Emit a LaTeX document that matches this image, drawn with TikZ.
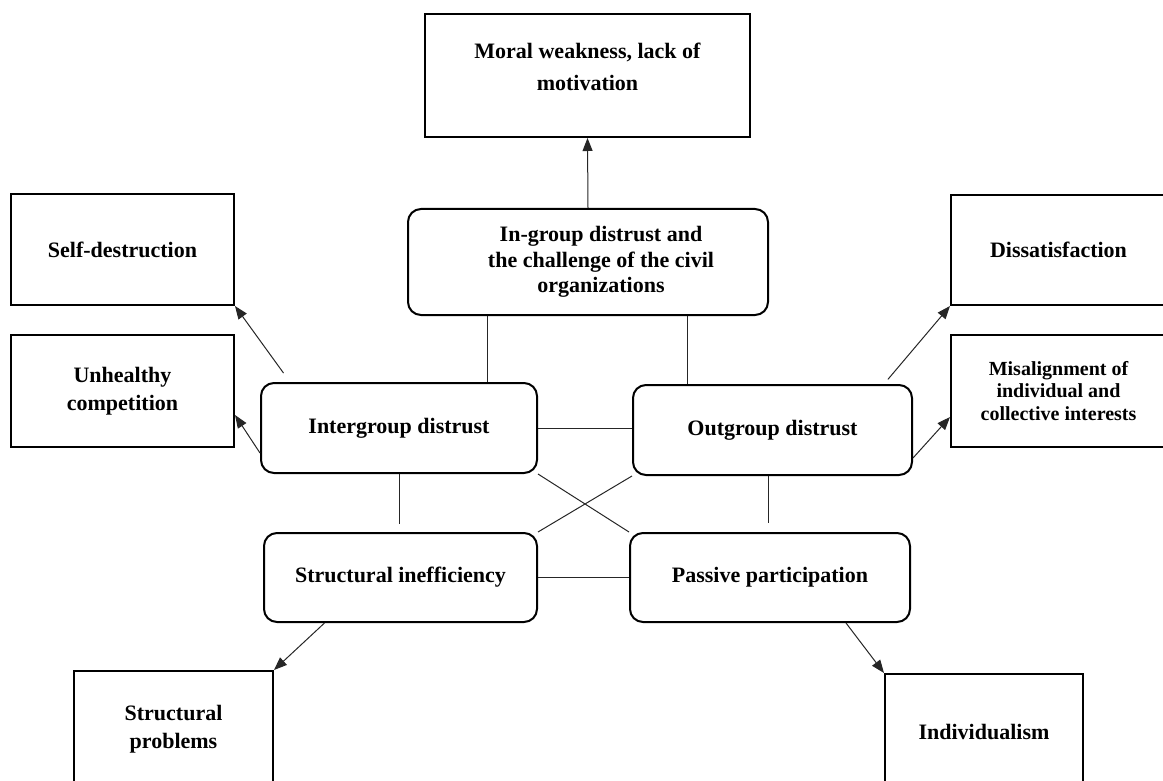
\documentclass[tikz,border=0pt]{standalone}
\usepackage{fontspec}
\setmainfont{Liberation Serif}
\usepackage{tikz}
\usetikzlibrary{arrows.meta}
\usetikzlibrary{positioning}

\begin{document}
\begin{tikzpicture}[x=1pt,y=-1pt,>={Triangle[length=13pt,width=10pt]},
		outbox/.style={rectangle,draw=black,line width=2pt,align=center,inner sep=2pt,
			font=\fontsize{22}{28}\selectfont\bfseries},
		midbox/.style={rectangle,rounded corners=13pt,draw=black,line width=2pt,align=center,inner sep=2pt,
			font=\fontsize{22}{28}\selectfont\bfseries},
		txt/.style={align=center,inner sep=0pt},
		link/.style={line width=1pt,black!85}]
		\useasboundingbox (0,0) rectangle (1163,781);

		% top
		\node[outbox,minimum width=325pt,minimum height=123pt] (moral) at (587.5,75.5) {};
		\node[txt,font=\fontsize{22}{32}\selectfont\bfseries] (moraltxt) at ([yshift=9pt]moral.center) {Moral weakness, lack of\\motivation};
		\node[midbox,minimum width=360pt,minimum height=106pt] (ingroup) at (588,262) {};
		\node[txt,font=\fontsize{22}{25.5}\selectfont\bfseries] (ingrouptxt) at ([xshift=13pt]ingroup.center) {In-group distrust and\\the challenge of the civil\\organizations};

		% left and right
		\node[outbox,minimum width=223pt,minimum height=111pt] (selfd) at (122.5,249.5) {Self-destruction};
		\node[outbox,minimum width=223pt,minimum height=112pt] (unh) at (122.5,391) {Unhealthy\\competition};
		\node[outbox,minimum width=215pt,minimum height=110pt] (dis) at (1058.5,250) {Dissatisfaction};
		\node[outbox,minimum width=215pt,minimum height=112pt,font=\fontsize{20}{22.5}\selectfont\bfseries] (mis) at (1058.5,391) {Misalignment of\\individual and\\collective interests};

		% middle
		\node[midbox,minimum width=276pt,minimum height=90pt] (inter) at (399,428) {Intergroup distrust};
		\node[midbox,minimum width=279pt,minimum height=90pt] (out) at (772.5,430) {Outgroup distrust};
		\node[midbox,minimum width=273pt,minimum height=89pt] (struct) at (400.5,577.5) {Structural inefficiency};
		\node[midbox,minimum width=280pt,minimum height=89pt] (pas) at (770,577.5) {Passive participation};

		% bottom
		\node[outbox,minimum width=199pt,minimum height=116pt] (sprob) at (173.5,729) {Structural\\problems};
		\node[outbox,minimum width=198pt,minimum height=116pt] (indiv) at (984,732) {Individualism};

		\coordinate (inl) at ([xshift=-101pt]ingroup.south);
		\coordinate (inr) at ([xshift=99pt]ingroup.south);
		\coordinate (outb) at ([xshift=-4pt]out.south);

		\path[->,link]
		(ingroup.north) edge (moral.south)
		([xshift=30pt]inter.north west) edge[shorten <=11pt] (selfd.south east)
		([yshift=-25pt]inter.west) edge ([yshift=-24pt]unh.east)
		([xshift=-29pt]out.north east) edge[shorten <=6pt] (dis.south west)
		([yshift=-28pt]out.east) edge ([yshift=-26pt]mis.west)
		([xshift=-76pt]struct.south) edge (sprob.north east)
		([xshift=76pt]pas.south) edge (indiv.north west);

		\path[-,link]
		(inl) edge (inl |- inter.north)
		(inr) edge (inr |- out.north)
		(inter.east) edge (inter.east -| out.west)
		(struct.east) edge (struct.east -| pas.west)
		(inter.south) edge[shorten >=8pt] (inter.south |- struct.north)
		(outb) edge[shorten >=9pt] (outb |- pas.north)
		(inter.south east) edge (pas.north west)
		(out.south west) edge (struct.north east);
\end{tikzpicture}
\end{document}
